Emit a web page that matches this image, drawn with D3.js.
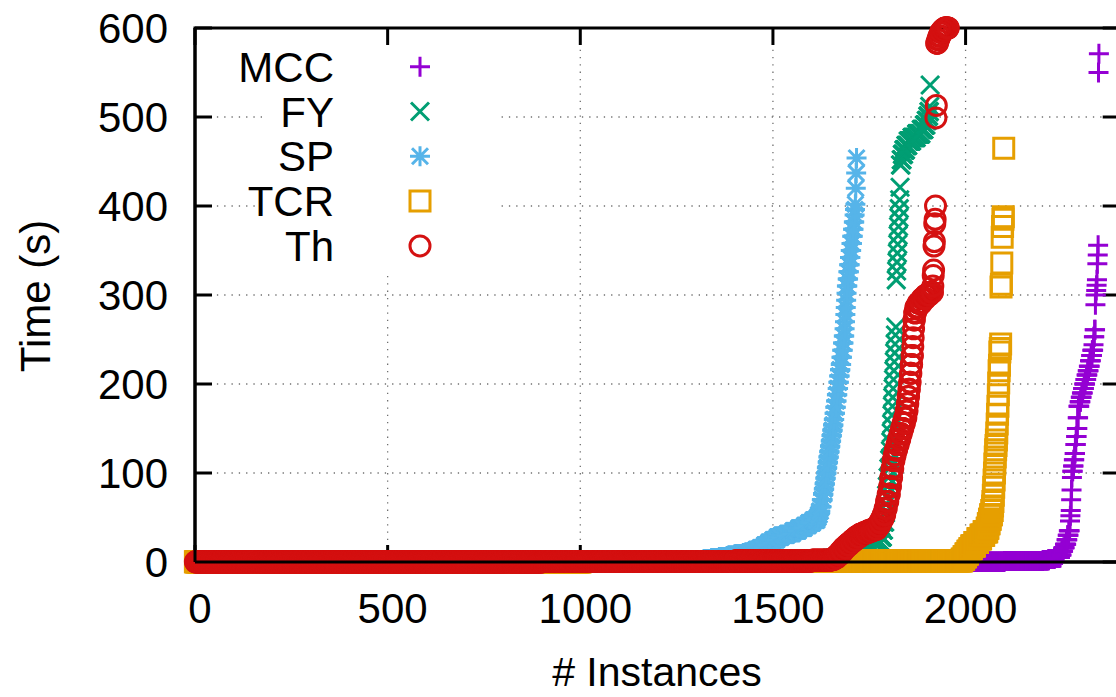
<!DOCTYPE html>
<html>
<head>
<meta charset="utf-8">
<script src="https://cdn.jsdelivr.net/npm/d3@7"></script>
<style>
body { margin: 0; background: #fff; }
text { font-family: "Liberation Sans", Arial, Helvetica, sans-serif; fill: #000; }
</style>
</head>
<body>
<svg id="chart" width="1116" height="697"></svg>
<script>
// cactus data: each run is [number of instances, time in s], in sorted order
var seriesNames = ['MCC', 'FY', 'SP', 'TCR', 'Th'];
var seriesColors = ['#9400d3', '#009e73', '#56b4e9', '#e69f00', '#d41111'];
var seriesShapes = ['plus', 'cross', 'star', 'square', 'circle'];

var mccRuns = [[1800,0.2],[300,0.4],[100,1],[15,2],[15,3.5],[15,5],[4,8],[4,12],[4,16],[4,20],[3,25],[3,30],[3,35],
  [1,46],[1,52],[1,58],[1,70],[1,81],[1,95],[2,102],[2,108],[2,115],[2,122],[2,132],[2,141],[2,150],[2,162],
  [3,175],[3,180],[3,185],[3,190],[3,195],[3,200],[3,205],[3,210],[3,215],[3,220],[3,226],[3,232],[3,238],[1,244],
  [2,253],[2,261],[1,289],[1,300],[1,305],[1,311],[1,317],[1,335],[1,345],[1,356],[1,550],[1,571]];

var fyRuns = [[1000,0.3],[400,0.8],[250,2],[30,4],[30,7],[30,11],[20,16],[20,22],[4,28],[3,36],[3,45],[2,55],[2,65],[2,75],
  [2,85],[2,95],[2,105],[2,115],[1,125],[1,135],[1,145],[1,155],[1,165],[1,175],[1,185],[1,195],[1,205],[1,215],
  [1,225],[1,235],[1,245],[1,255],[1,264],[1,317],[1,327],[1,337],[1,347],[1,357],[1,367],[1,377],[1,387],[1,397],
  [1,407],[1,421],[2,446],[3,452],[4,458],[5,463],[6,468],[10,473],[12,477],[12,481],[8,486],[5,491],[4,496],
  [3,501],[2,506],[1,512],[1,536]];

var spRuns = [[1000,0.2],[200,0.5],[100,1],[20,2],[20,3],[20,4.5],[20,5.5],[20,6.7],[22,8.5],[22,10],[11,12],[11,14],
  [11,16],[11,19],[11,22],[11,25],[11,28],[15,30],[15,32],[15,35],[15,38],[11,41],[11,44],[11,47],[3,50],[3,53],
  [3,57],[3,62],[3,70],[2,76],[2,82],[2,88],[2,94],[2,100],[2,106],[2,112],[2,118],[2,124],[2,130],[2,136],[2,142],
  [2,148],[2,154],[2,160],[2,167],[2,174],[2,181],[2,188],[2,195],[2,202],[2,209],[2,216],[2,222],[2,230],[2,238],
  [2,246],[2,254],[1,262],[1,270],[1,278],[1,286],[1,294],[1,302],[2,310],[2,318],[2,326],[2,334],[2,342],[2,350],
  [2,358],[2,366],[2,374],[2,382],[1,390],[1,396],[1,402],[1,420],[1,437],[1,454]];

var tcrRuns = [[1000,0.3],[500,0.6],[300,1],[190,1.5],[5,3],[5,6],[5,9],[5,12],[5,15],[8,18],[8,22],[8,26],[8,30],
  [8,34],[3,38],[3,43],[3,48],[3,53],[2,58],[1,63],[1,68],[1,75],[1,84],[1,92],[1,100],[1,110],[1,118],[1,126],
  [1,131],[1,137],[1,145],[1,155],[1,166],[1,175],[1,188],[1,201],[1,215],[1,221],[1,236],[1,240],[1,245],[1,309],
  [1,312],[1,336],[1,365],[1,377],[1,385],[1,388],[1,465]];

var thRuns = [[900,0.2],[500,0.5],[200,1.2],[50,2],[8,3],[8,5],[8,8],[8,12],[8,16],[8,19],[8,22],[8,25],[10,28],
  [10,31],[12,33],[12,35],[12,37],[5,40],[5,44],[5,48],[5,53],[4,60],[4,68],[4,76],[3,85],[3,95],[3,105],[3,114],
  [3,120],[4,126],[4,132],[4,138],[4,144],[4,150],[4,156],[4,162],[3,170],[2,178],[2,186],[2,194],[2,202],[2,212],
  [2,222],[2,232],[1,242],[1,252],[1,262],[2,272],[3,280],[6,286],[10,291],[10,296],[10,300],[8,303],[1,310],
  [1,322],[1,328],[1,355],[1,360],[1,380],[1,385],[1,400],[1,499],[1,513],[3,583],[3,587],[4,591],[5,595],
  [6,598],[10,600]];

var xTicks = [0, 500, 1000, 1500, 2000];
var yTicks = [0, 100, 200, 300, 400, 500, 600];

var allRuns = [mccRuns, fyRuns, spRuns, tcrRuns, thRuns];

var svg = d3.select('#chart');
var x = d3.scaleLinear().domain([0, 2400]).range([195, 1119.7]);
var y = d3.scaleLinear().domain([0, 600]).range([562, 28]);

var shapePaths = {
  plus: 'M-10,0H10M0,-10V10',
  cross: 'M-9,-9L9,9M-9,9L9,-9',
  star: 'M-10,0H10M0,-10V10M-8,-8L8,8M-8,8L8,-8',
  square: 'M-10,-10H10V10H-10Z',
  circle: 'M10,0A10,10 0 1,1 -10,0A10,10 0 1,1 10,0Z'
};

//runs -> one point per solved instance
function expand(runs){
  var pts = [], rank = 0;
  runs.forEach(function(r){
    for (var i = 0; i < r[0]; i++) { rank++; pts.push([rank, r[1]]); }
  });
  return pts;
}

// grid
var grid = svg.append('g').attr('stroke', '#707070').attr('stroke-width', 1.3).attr('stroke-dasharray', '1.3,6');
grid.selectAll('.gy').data(yTicks.slice(1, -1)).enter().append('line')
  .attr('x1', x(0)).attr('x2', x(2400)).attr('y1', function(d){ return y(d); }).attr('y2', function(d){ return y(d); });
grid.selectAll('.gx').data(xTicks.slice(1)).enter().append('line')
  .attr('y1', y(0)).attr('y2', y(600)).attr('x1', function(d){ return x(d); }).attr('x2', function(d){ return x(d); });

// key box hides grid
svg.append('rect').attr('x', 263).attr('y', 30).attr('width', 234).attr('height', 240).attr('fill', '#fff');

// border + ticks
var frame = svg.append('g').attr('stroke', '#000').attr('stroke-width', 3).attr('fill', 'none');
frame.append('rect').attr('x', x(0)).attr('y', y(600)).attr('width', x(2400) - x(0)).attr('height', y(0) - y(600));
yTicks.forEach(function(d){
  frame.append('line').attr('x1', x(0)).attr('x2', x(0) + 17).attr('y1', y(d)).attr('y2', y(d));
  frame.append('line').attr('x1', x(2400)).attr('x2', x(2400) - 17).attr('y1', y(d)).attr('y2', y(d));
});
xTicks.forEach(function(d){
  frame.append('line').attr('x1', x(d)).attr('x2', x(d)).attr('y1', y(0)).attr('y2', y(0) - 17);
  frame.append('line').attr('x1', x(d)).attr('x2', x(d)).attr('y1', y(600)).attr('y2', y(600) + 17);
});

// tick labels
svg.selectAll('.ylab').data(yTicks).enter().append('text')
  .attr('x', 168).attr('y', function(d){ return y(d) + 15; })
  .attr('text-anchor', 'end').attr('font-size', 42).text(function(d){ return d; });
svg.selectAll('.xlab').data(xTicks).enter().append('text')
  .attr('x', function(d){ return x(d) + 5; }).attr('y', 623)
  .attr('text-anchor', 'middle').attr('font-size', 42).text(function(d){ return d; });

svg.append('text').attr('x', 657).attr('y', 686).attr('text-anchor', 'middle').attr('font-size', 41).text('# Instances');
svg.append('text').attr('transform', 'translate(50,296) rotate(-90)').attr('text-anchor', 'middle')
  .attr('font-size', 42).text('Time (s)');

// series
allRuns.forEach(function(runs, i){
  svg.append('g').attr('stroke', seriesColors[i]).attr('stroke-width', 3).attr('fill', 'none')
    .selectAll('path').data(expand(runs)).enter().append('path')
    .attr('d', shapePaths[seriesShapes[i]])
    .attr('transform', function(d){ return 'translate(' + x(d[0]) + ',' + y(d[1]) + ')'; });
});

// zero axes drawn in front
svg.append('line').attr('x1', x(0)).attr('x2', x(2400)).attr('y1', y(0)).attr('y2', y(0)).attr('stroke', '#000').attr('stroke-width', 3);
svg.append('line').attr('x1', x(0)).attr('x2', x(0)).attr('y1', y(0)).attr('y2', y(600)).attr('stroke', '#000').attr('stroke-width', 3);

// key
var key = svg.append('g');
seriesNames.forEach(function(name, i){
  var ky = 66.7 + i * 44.8;
  key.append('text').attr('x', 334).attr('y', ky + 15).attr('text-anchor', 'end').attr('font-size', 42).text(name);
  key.append('path').attr('d', shapePaths[seriesShapes[i]]).attr('transform', 'translate(420,' + ky + ')')
    .attr('stroke', seriesColors[i]).attr('stroke-width', 3).attr('fill', 'none');
});
</script>
</body>
</html>
